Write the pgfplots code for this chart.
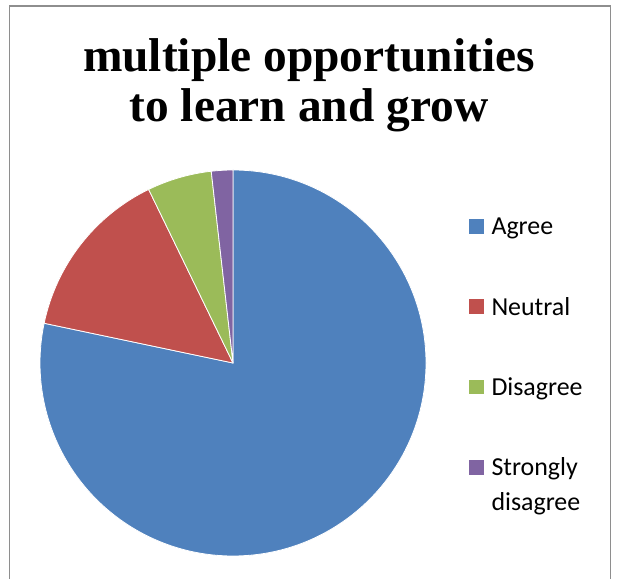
\documentclass[border=0pt]{standalone}
\usepackage{pgfplots}
\pgfplotsset{compat=1.18}
\usepackage{pgfplotstable}
\usepackage{fontspec}
\setmainfont{Liberation Serif}
\newfontfamily\legfont{Carlito}
\definecolor{cA}{HTML}{4F81BD}
\definecolor{cB}{HTML}{C0504D}
\definecolor{cC}{HTML}{9BBB59}
\definecolor{cD}{HTML}{8064A2}
\definecolor{frame}{HTML}{8E8E8E}

\pgfplotstableread[col sep=comma]{
label,value,color
Agree,78.3,cA
Neutral,14.5,cB
Disagree,5.4,cC
Strongly disagree,1.8,cD
}\piedata

\begin{document}
\begin{tikzpicture}
\path[use as bounding box] (0,0) rectangle (618bp,579bp);
\begin{axis}[
  at={(0,0)}, anchor=south west,
  scale only axis, width=618bp, height=579bp,
  xmin=0, xmax=618, ymin=0, ymax=579,
  hide axis, clip=false,
]
\pgfplotsextra{
  \gdef\cum{0}
  \foreach \i in {0,...,3}{
    \pgfplotstablegetelem{\i}{value}\of\piedata
    \let\sliceval\pgfplotsretval
    \pgfplotstablegetelem{\i}{color}\of\piedata
    \let\slicecol\pgfplotsretval
    \pgfmathsetmacro\aA{90-3.6*\cum}
    \pgfmathsetmacro\aB{90-3.6*(\cum+\sliceval)}
    \pgfmathsetmacro\newcum{\cum+\sliceval}
    \xdef\cum{\newcum}
    \filldraw[fill=\slicecol, draw=white, line width=0.8pt, line join=round]
      (axis cs:233,216) -- ++(\aA:193bp) arc[start angle=\aA, end angle=\aB, radius=193bp] -- cycle;
    \pgfmathsetmacro\ysq{579-(226.3+80.3*\i)}
    \pgfmathsetmacro\ybase{\ysq-8.6}
    \fill[\slicecol] (axis cs:469.3,\ysq) ++(0,-7.35bp) rectangle ++(14.7bp,14.7bp);
    \pgfplotstablegetelem{\i}{label}\of\piedata
    \node[anchor=base west, inner sep=0pt, text width=112bp, align=left,
          font=\legfont\fontsize{26}{34.5}\selectfont]
      at (axis cs:491.3,\ybase) {\fontsize{26}{34.5}\selectfont\pgfplotsretval};
  }
  \node[anchor=base, inner sep=0pt, font=\bfseries\fontsize{47.6}{50}\selectfont]
    at (axis cs:309,507.3) {multiple opportunities};
  \node[anchor=base, inner sep=0pt, font=\bfseries\fontsize{47.6}{50}\selectfont]
    at (axis cs:309,457.3) {to learn and grow};
}
\end{axis}
\draw[frame, line width=1.3bp] (9.6bp,-10bp) rectangle (610.7bp,573bp);
\end{tikzpicture}
\end{document}
